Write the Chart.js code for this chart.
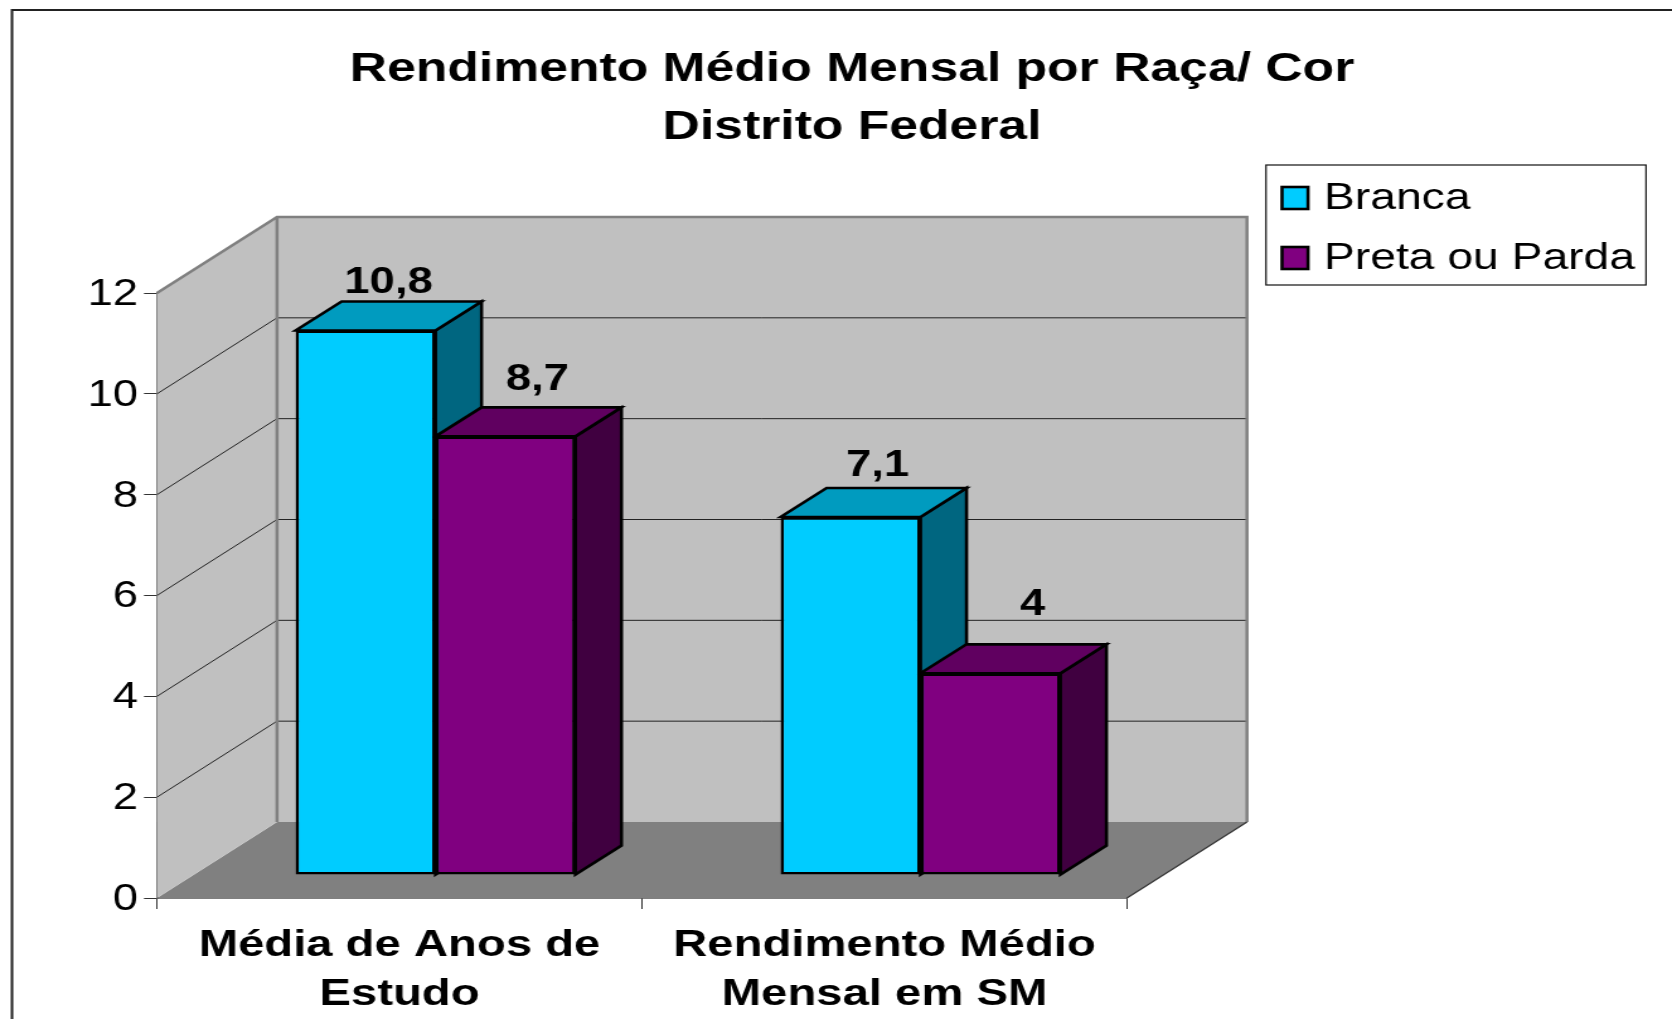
<!DOCTYPE html>
<html lang="pt">
<head>
<meta charset="utf-8">
<title>Rendimento Médio Mensal por Raça/ Cor</title>
<script src="https://cdn.jsdelivr.net/npm/chart.js@4"></script>
<style>
html,body{margin:0;padding:0;background:#fff;overflow:hidden}
</style>
</head>
<body>
<canvas id="c" width="1327" height="1019" style="display:block;width:1672px;height:1019px"></canvas>
<script>
const categories = [["Média de Anos de","Estudo"],["Rendimento Médio","Mensal em SM"]];
const seriesNames = ["Branca","Preta ou Parda"];
const branca = [10.8,7.1];
const pretaOuParda = [8.7,4];
const titleLines = ["Rendimento Médio Mensal por Raça/ Cor","Distrito Federal"];
const yTicks = {min:0,max:12,step:2};

const K = 1672/1327;          // horizontal stretch of the picture
const px = v => v/K;          // picture x -> canvas x
const FONT = "'Liberation Sans', Arial, sans-serif";
const faces = [
  {front:"#00CCFF", top:"#009BBF", side:"#006680"},
  {front:"#800080", top:"#600060", side:"#400040"}
];
// label nudges [dx, lift] per dataset / category, style only
const labelNudge = [[[0,9],[4,12]],[[9,17],[19,29]]];

const WALL = {dx:px(120), dy:76};
const BAR  = {ox:px(36), oy:23, dx:px(46), dy:29};

function poly(ctx, pts, fill, stroke, lw){
  ctx.beginPath();
  pts.forEach((p,i)=> i?ctx.lineTo(p[0],p[1]):ctx.moveTo(p[0],p[1]));
  ctx.closePath();
  if(fill){ctx.fillStyle=fill;ctx.fill();}
  if(stroke){ctx.strokeStyle=stroke;ctx.lineWidth=lw;ctx.lineJoin="miter";ctx.stroke();}
}

const scene = {
  id:"scene",
  afterLayout(chart){
    const t = chart.titleBlock;
    t.left = 0; t.right = 2*px(852);
  },
  beforeDraw(chart){
    const {ctx} = chart;
    ctx.save();
    ctx.strokeStyle="#222"; ctx.lineWidth=2;
    ctx.beginPath();
    ctx.moveTo(px(12),1019); ctx.lineTo(px(12),10); ctx.lineTo(chart.width,10);
    ctx.stroke();
    // legend box, swatches and names
    ctx.strokeStyle="#111"; ctx.lineWidth=1.2;
    ctx.strokeRect(px(1266),165,px(380),120);
    ctx.font="36.7px "+FONT;
    ctx.textAlign="left";ctx.textBaseline="alphabetic";
    seriesNames.forEach((name,i)=>{
      const oy=60*i;
      ctx.fillStyle=faces[i].front;
      ctx.strokeStyle="#000";ctx.lineWidth=2.6;
      ctx.fillRect(px(1282),187+oy,px(26),22);
      ctx.strokeRect(px(1282),187+oy,px(26),22);
      ctx.fillStyle="#000";
      ctx.fillText(name,px(1324),209+oy);
    });
    ctx.restore();
  },
  beforeDatasetsDraw(chart){
    const {ctx,chartArea:a,scales:{y}} = chart;
    const {dx,dy} = WALL;
    const L=a.left,R=a.right,T=a.top,B=a.bottom;
    ctx.save();
    // floor
    poly(ctx,[[L,B],[L+dx,B-dy],[R+dx,B-dy],[R,B]],"#808080");
    // left wall
    poly(ctx,[[L,T],[L+dx,T-dy],[L+dx,B-dy],[L,B]],"#C0C0C0");
    // back wall
    poly(ctx,[[L+dx,T-dy],[R+dx,T-dy],[R+dx,B-dy],[L+dx,B-dy]],"#C0C0C0");
    // grid
    for(let v=yTicks.min+yTicks.step;v<yTicks.max;v+=yTicks.step){
      const p=y.getPixelForValue(v);
      ctx.strokeStyle="#222";ctx.lineWidth=1;
      ctx.beginPath();ctx.moveTo(L,p);ctx.lineTo(L+dx,p-dy);ctx.lineTo(R+dx,p-dy);ctx.stroke();
    }
    // wall outline
    ctx.strokeStyle="#808080";ctx.lineWidth=2.5;ctx.lineJoin="miter";
    ctx.beginPath();
    ctx.moveTo(L,T);ctx.lineTo(L+dx,T-dy);ctx.lineTo(R+dx,T-dy);ctx.lineTo(R+dx,B-dy);
    ctx.moveTo(L+dx,T-dy);ctx.lineTo(L+dx,B-dy);
    ctx.stroke();
    // floor front-right edge
    ctx.strokeStyle="#333";ctx.lineWidth=1.2;
    ctx.beginPath();ctx.moveTo(R,B);ctx.lineTo(R+dx,B-dy);ctx.stroke();
    // bar tops and sides, behind every front face
    ctx.translate(BAR.ox,-BAR.oy);
    const bw=2.6;
    chart.data.datasets.forEach((ds,i)=>{
      chart.getDatasetMeta(i).data.forEach(b=>{
        const w=b.width/2,x0=b.x-w,x1=b.x+w,t=b.y,bt=b.base;
        poly(ctx,[[x1,t],[x1+BAR.dx,t-BAR.dy],[x1+BAR.dx,bt-BAR.dy],[x1,bt]],faces[i].side,"#000",bw);
        poly(ctx,[[x0,t],[x0+BAR.dx,t-BAR.dy],[x1+BAR.dx,t-BAR.dy],[x1,t]],faces[i].top,"#000",bw);
      });
    });
    ctx.restore();
    // front faces are drawn by the library in this shifted frame
    ctx.save();
    ctx.translate(BAR.ox,-BAR.oy);
  },
  afterDatasetsDraw(chart){
    const {ctx}=chart;
    ctx.restore();
    ctx.save();
    ctx.fillStyle="#000";
    ctx.font="bold 36px "+FONT;
    ctx.textAlign="center";ctx.textBaseline="alphabetic";
    chart.data.datasets.forEach((ds,i)=>{
      chart.getDatasetMeta(i).data.forEach((b,j)=>{
        const [nx,lift]=labelNudge[i][j];
        const s=String(ds.data[j]).replace(".",",");
        ctx.fillText(s,b.x+BAR.ox+BAR.dx/2+px(nx),b.y-BAR.oy-BAR.dy-lift);
      });
    });
    ctx.restore();
  }
};

new Chart(document.getElementById("c"),{
  type:"bar",
  data:{
    labels:categories,
    datasets:[
      {label:seriesNames[0],data:branca,backgroundColor:faces[0].front,borderColor:"#000",borderWidth:2.6,borderSkipped:false},
      {label:seriesNames[1],data:pretaOuParda,backgroundColor:faces[1].front,borderColor:"#000",borderWidth:2.6,borderSkipped:false}
    ]
  },
  options:{
    responsive:false,
    animation:false,
    devicePixelRatio:1,
    layout:{padding:{left:10,right:1327-px(1127),top:0,bottom:0}},
    datasets:{bar:{categoryPercentage:0.577,barPercentage:1}},
    plugins:{
      tooltip:{enabled:false},
      title:{
        display:true,text:titleLines,color:"#000",
        font:{family:FONT,size:41,weight:"bold",lineHeight:58/41},
        padding:{top:41,bottom:136}
      },
      legend:{display:false}
    },
    scales:{
      x:{
        offset:true,
        afterFit(s){s.height=121;},
        grid:{display:true,drawOnChartArea:false,drawTicks:true,tickLength:11,tickColor:"#333",offset:true},
        border:{display:true,color:"#000",width:1.5},
        ticks:{color:"#000",maxRotation:0,minRotation:0,autoSkip:false,padding:12,
          font:{family:FONT,size:37.5,weight:"bold",lineHeight:49/37.5}}
      },
      y:{
        min:yTicks.min,max:yTicks.max,
        afterFit(s){s.width=px(157)-10;},
        grid:{display:true,drawOnChartArea:false,drawTicks:true,tickLength:px(13),tickColor:"#333"},
        border:{display:true,color:"#555",width:1.5},
        ticks:{stepSize:yTicks.step,color:"#000",padding:px(6),labelOffset:2,font:{family:FONT,size:36}}
      }
    }
  },
  plugins:[scene]
});
</script>
</body>
</html>
